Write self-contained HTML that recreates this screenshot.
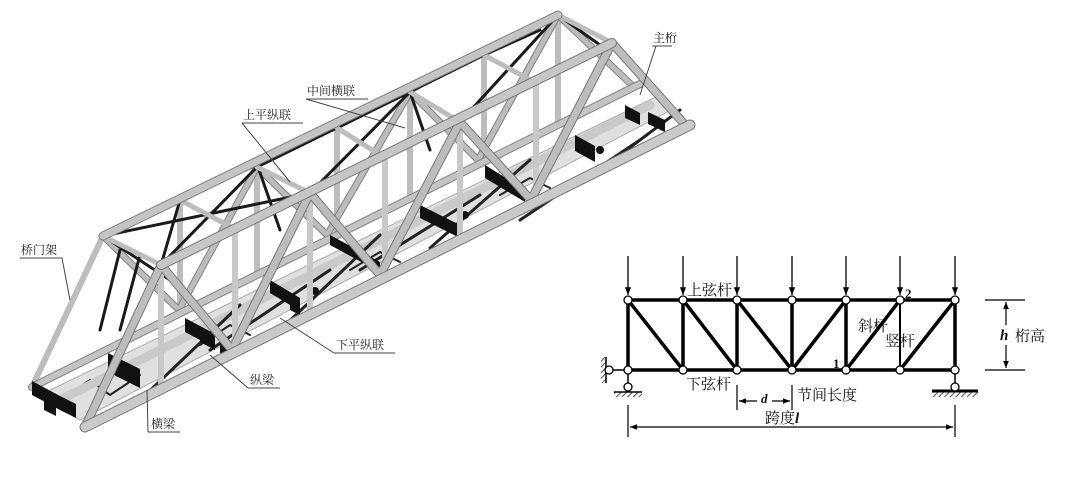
<!DOCTYPE html>
<html><head><meta charset="utf-8"><style>
html,body{margin:0;padding:0;background:#fff;}
svg{display:block;}
text{font-family:"Liberation Serif","Noto Serif CJK SC","Noto Sans CJK SC",serif;}
</style></head><body>
<svg width="1080" height="487" viewBox="0 0 1080 487" xmlns="http://www.w3.org/2000/svg">
<defs>
<marker id="ar" viewBox="0 0 10 10" refX="10" refY="5" markerWidth="6" markerHeight="6" orient="auto"><path d="M0,1 L10,5 L0,9 z" fill="#000"/></marker>
<pattern id="hatch" width="4" height="4" patternUnits="userSpaceOnUse" patternTransform="rotate(45)"><rect width="4" height="4" fill="#fff"/><line x1="0" y1="0" x2="0" y2="4" stroke="#555" stroke-width="2"/></pattern>
</defs>
<rect width="1080" height="487" fill="#fff"/>

<!-- ===== 3D truss ===== -->
<g stroke-linecap="round" fill="none">
<!-- back verticals -->
<g stroke="#bdbdbd" stroke-width="6">
<line x1="103" y1="236" x2="32" y2="387"/>
<line x1="180" y1="200" x2="180" y2="310"/>
<line x1="257" y1="167" x2="257" y2="272"/>
<line x1="337" y1="128" x2="337" y2="235"/>
<line x1="410" y1="92" x2="410" y2="197"/>
<line x1="484" y1="55" x2="484" y2="160"/>
<line x1="558" y1="15" x2="558" y2="122"/>
</g>
<!-- back diagonals -->
<path stroke="#808080" stroke-width="7" d="M103,236 L179,310 M257,167 L179,310 M257,167 L327,235 M410,92 L327,235 M410,92 L478,160 M558,15 L478,160 M558,15 L634,87"/>
<path stroke="#bcbcbc" stroke-width="5" d="M103,236 L179,310 M257,167 L179,310 M257,167 L327,235 M410,92 L327,235 M410,92 L478,160 M558,15 L478,160 M558,15 L634,87"/>
<!-- back bottom chord -->
<line x1="32" y1="387" x2="640" y2="84" stroke="#808080" stroke-width="8"/>
<line x1="32" y1="387" x2="640" y2="84" stroke="#c4c4c4" stroke-width="6"/>
<!-- floor deck -->
<polygon points="40,395 660,95 675,108 80,420" fill="#e0e0e0" stroke="#aaa" stroke-width="1"/>
<path stroke="#222" stroke-width="2" d="M60,400 L90,380 L110,395 L140,375 M200,345 L230,325 L250,335 M350,270 L380,252 L400,262 M500,195 L530,178 L550,188"/>
<line x1="60" y1="400" x2="650" y2="105" stroke="#cacaca" stroke-width="9"/>
<!-- lower bracing -->
<path stroke="#222" stroke-width="3" d="M140,400 L240,305 M210,350 L330,270 M280,330 L380,235 M360,270 L480,195 M430,248 L530,160 M520,220 L640,140 M600,170 L680,110"/>
<circle cx="315" cy="291" r="4" fill="#111"/><circle cx="465" cy="215" r="4" fill="#111"/><circle cx="600" cy="150" r="4" fill="#111"/>
<!-- floor beams (black) -->
<g fill="#111">
<polygon points="32,381 60,396 60,410 32,395"/><polygon points="44,388 56,394 56,416 44,410"/><polygon points="60,396 76,404 76,418 60,410"/>
<polygon points="108,353 126,362 126,381 108,372"/><polygon points="126,362 140,369 140,388 126,381"/>
<polygon points="185,318 200,326 200,340 185,332"/><polygon points="200,326 215,334 215,350 200,342"/><polygon points="220,338 230,343 230,358 220,353"/>
<polygon points="270,280 290,292 290,305 270,293"/><polygon points="290,292 300,298 300,315 290,310"/>
<polygon points="330,235 380,262 380,272 330,245"/>
<polygon points="420,205 460,225 460,238 420,218"/>
<polygon points="485,165 525,190 525,202 485,178"/>
<polygon points="575,135 595,146 595,162 575,151"/><polygon points="625,105 640,113 640,125 625,118"/><polygon points="648,112 665,120 665,132 648,124"/>
</g>
<!-- top bracing -->
<path stroke="#1a1a1a" stroke-width="3" d="M103,236 L310,193 M161,265 L257,167 M180,200 L337,128 M257,167 L410,92 M310,193 L410,92 M337,128 L484,55 M410,92 L558,15 M460,122 L558,15 M103,236 L170,280 M180,200 L161,265 M258,167 L280,230 M410,92 L430,150 M484,55 L540,30 M558,15 L600,45 M120,250 L100,330 M140,255 L120,330"/>
<!-- top struts -->
<path stroke="#bdbdbd" stroke-width="5" d="M103,236 L161,265 M257,167 L310,193 M410,92 L460,122 M558,15 L612,43 M180,200 L235,229 M337,128 L385,158 M484,55 L536,83"/>
<!-- back top chord -->
<line x1="103" y1="236" x2="558" y2="15" stroke="#808080" stroke-width="9"/>
<line x1="103" y1="236" x2="558" y2="15" stroke="#c4c4c4" stroke-width="7"/>
<!-- front verticals -->
<g stroke="#c8c8c8" stroke-width="6">
<line x1="235" y1="229" x2="235" y2="350"/><line x1="385" y1="158" x2="385" y2="273"/><line x1="536" y1="83" x2="536" y2="200"/>
<line x1="310" y1="193" x2="310" y2="312"/><line x1="460" y1="122" x2="460" y2="236"/><line x1="161" y1="265" x2="161" y2="388"/>
</g>
<!-- front diagonals -->
<path stroke="#777" stroke-width="9" stroke-linejoin="round" d="M85,427 L161,265 L232,350 L310,193 L380,275 L460,122 L531,200 L612,43 L687,127"/>
<path stroke="#bdbdbd" stroke-width="7" stroke-linejoin="round" d="M85,427 L161,265 L232,350 L310,193 L380,275 L460,122 L531,200 L612,43 L687,127"/>
<!-- front top chord -->
<line x1="161" y1="265" x2="612" y2="43" stroke="#777" stroke-width="10"/>
<line x1="161" y1="265" x2="612" y2="43" stroke="#c6c6c6" stroke-width="8"/>
<!-- front bottom chord -->
<line x1="85" y1="427" x2="690" y2="125" stroke="#777" stroke-width="11"/>
<line x1="85" y1="427" x2="690" y2="125" stroke="#cacaca" stroke-width="9"/>
</g>

<!-- labels left -->
<g fill="none" stroke="#444" stroke-width="1">
<path d="M652,46 L672,46 M656,46 L640,95"/>
<path d="M306,99 L368,99 M306,99 L405,128"/>
<path d="M242,123 L303,123 M242,123 L290,182"/>
<path d="M20,258 L62,258 M62,258 L70,300"/>
<path d="M334,353 L395,353 M334,353 L280,318"/>
<path d="M248,388 L280,388 M248,388 L210,355"/>
<path d="M148,432 L180,432 M148,432 L147,390"/>
</g>
<g font-size="12" fill="#222">
<text x="653" y="42">主桁</text>
<text x="307" y="95">中间横联</text>
<text x="243" y="119">上平纵联</text>
<text x="21" y="254">桥门架</text>
<text x="336" y="349">下平纵联</text>
<text x="250" y="384">纵梁</text>
<text x="151" y="428">横梁</text>
</g>

<!-- ===== 2D truss diagram ===== -->
<g stroke="#000" fill="none">
<g stroke-width="3.5">
<line x1="628" y1="300" x2="955" y2="300"/>
<line x1="628" y1="370" x2="955" y2="370"/>
<path d="M628,300 V370 M683,300 V370 M737,300 V370 M792,300 V370 M846,300 V370 M955,300 V370"/>
<path d="M628,300 L683,370 M683,300 L737,370 M737,300 L792,370 M846,300 L792,370 M900,300 L846,370 M955,300 L900,370"/>
</g>
<line x1="900" y1="300" x2="900" y2="370" stroke-width="2"/>
<g stroke-width="1.3">
<line x1="628" y1="256" x2="628" y2="295" marker-end="url(#ar)"/>
<line x1="683" y1="256" x2="683" y2="295" marker-end="url(#ar)"/>
<line x1="737" y1="256" x2="737" y2="295" marker-end="url(#ar)"/>
<line x1="792" y1="256" x2="792" y2="295" marker-end="url(#ar)"/>
<line x1="846" y1="256" x2="846" y2="295" marker-end="url(#ar)"/>
<line x1="900" y1="256" x2="900" y2="295" marker-end="url(#ar)"/>
<line x1="955" y1="256" x2="955" y2="295" marker-end="url(#ar)"/>
</g>
<!-- supports -->
<g stroke-width="1.5"><line x1="628" y1="370" x2="628" y2="387"/><line x1="609" y1="370" x2="628" y2="370"/><line x1="955" y1="370" x2="955" y2="387"/></g>
<rect x="601" y="357" width="6" height="26" fill="url(#hatch)" stroke="none"/>
<line x1="606" y1="357" x2="606" y2="383" stroke-width="1.5"/>
<rect x="614" y="392" width="28" height="5" fill="url(#hatch)" stroke="none"/>
<line x1="614" y1="392" x2="642" y2="392" stroke-width="1.5"/>
<rect x="932" y="392" width="46" height="5" fill="url(#hatch)" stroke="none"/>
<line x1="932" y1="391" x2="978" y2="391" stroke-width="3"/>
<!-- dimensions -->
<g stroke-width="1.2">
<path d="M628,405 V437 M955,405 V437 M737,385 V410 M792,385 V410 M985,300 H1025 M985,370 H1025"/>
<line x1="640" y1="427" x2="630" y2="427" marker-end="url(#ar)"/>
<line x1="640" y1="427" x2="943" y2="427"/>
<line x1="943" y1="427" x2="953" y2="427" marker-end="url(#ar)"/>
<line x1="757" y1="401" x2="739" y2="401" marker-end="url(#ar)"/>
<line x1="772" y1="401" x2="790" y2="401" marker-end="url(#ar)"/>
<line x1="1006" y1="325" x2="1006" y2="302" marker-end="url(#ar)"/>
<line x1="1006" y1="345" x2="1006" y2="368" marker-end="url(#ar)"/>
</g>
</g>
<g fill="#fff" stroke="#000" stroke-width="1.3">
<circle cx="628" cy="300" r="4"/><circle cx="683" cy="300" r="4"/><circle cx="737" cy="300" r="4"/><circle cx="792" cy="300" r="4"/><circle cx="846" cy="300" r="4"/><circle cx="900" cy="300" r="4"/><circle cx="955" cy="300" r="4"/>
<circle cx="628" cy="370" r="4"/><circle cx="683" cy="370" r="4"/><circle cx="737" cy="370" r="4"/><circle cx="792" cy="370" r="4"/><circle cx="846" cy="370" r="4"/><circle cx="900" cy="370" r="4"/><circle cx="955" cy="370" r="4"/>
<circle cx="609" cy="370" r="4"/><circle cx="628" cy="387" r="4"/><circle cx="955" cy="387" r="4"/>
</g>
<g font-size="15" fill="#111">
<text x="687" y="295">上弦杆</text>
<text x="858" y="331">斜杆</text>
<text x="885" y="346">竖杆</text>
<text x="686" y="389">下弦杆</text>
<text x="797" y="400">节间长度</text>
<text x="765" y="423">跨度<tspan font-style="italic" font-weight="bold">l</tspan></text>
<text x="1015" y="341">桁高</text>
<text x="1000" y="340" font-style="italic" font-weight="bold">h</text>
<text x="761" y="403" font-style="italic" font-weight="bold" font-size="13">d</text>
<text x="905" y="298" font-weight="bold" font-size="13">2</text>
<text x="833" y="368" font-weight="bold" font-size="13">1</text>
</g>
</svg>
</body></html>
